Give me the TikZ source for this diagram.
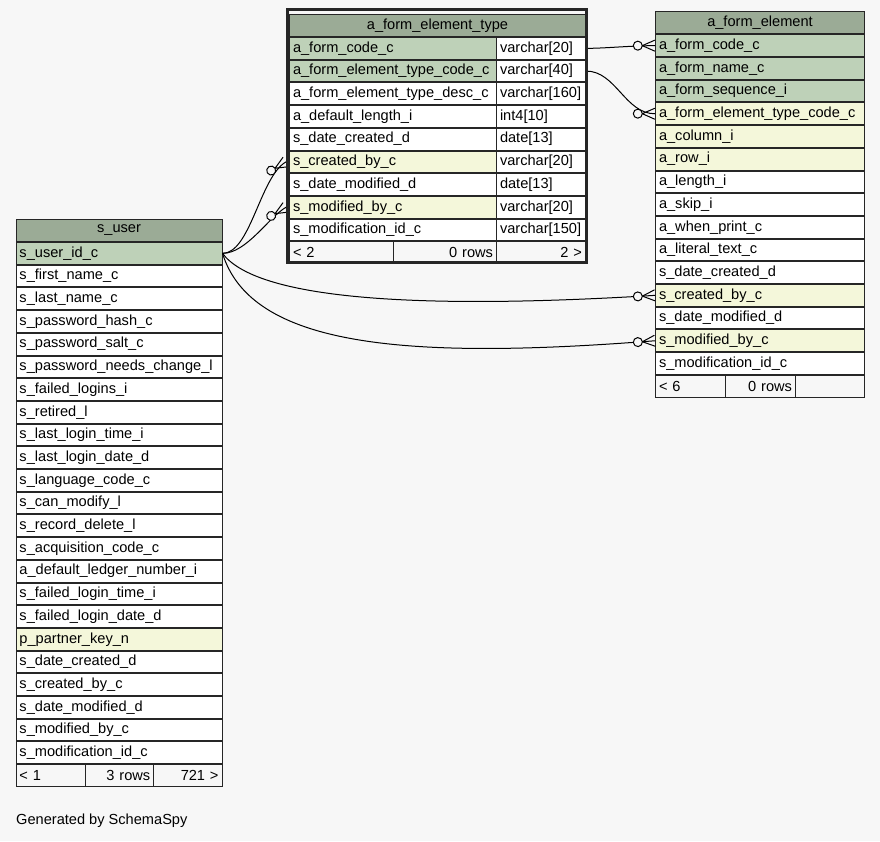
\documentclass[tikz,border=0pt]{standalone}
\usepackage{fontspec}
\setmainfont{Liberation Sans}
\usetikzlibrary{calc,decorations.markings}
\definecolor{headcol}{HTML}{9BAB96}
\definecolor{keycol}{HTML}{BED1B8}
\definecolor{idxcol}{HTML}{F4F7DA}
\definecolor{backcol}{HTML}{F7F7F7}
\tikzset{
  cell/.style={draw=black!85, line width=1pt, rectangle, anchor=north west, inner xsep=3.5pt, inner ysep=0pt,
    minimum height=21.7pt, align=left, font=\fontsize{14.6}{17}\selectfont},
  headcell/.style={cell, fill=headcol, align=center, minimum height=22pt},
  crowfoot/.style={decoration={markings, mark=at position -0.2pt with {
      \draw[line width=1pt] (-12.5,0) -- (0,5.5) (-12.5,0) -- (0,-5.5);
      \draw[line width=1pt, fill=backcol] (-17,0) circle (4.5pt);
    }}, postaction=decorate},
  fkline/.style={draw=black, line width=1pt, crowfoot}
}
\begin{document}
\begin{tikzpicture}[x=1pt,y=-1pt]
\fill[backcol] (0,0) rectangle (880,841);

% s_user
\node[headcell, text width=199pt] (user-0) at (15.5,219) {s\_user};
\foreach \n/\txt/\clr in {1/s\_user\_id\_c/keycol,2/s\_first\_name\_c/white,3/s\_last\_name\_c/white,4/s\_password\_hash\_c/white,5/s\_password\_salt\_c/white,6/s\_password\_needs\_change\_l/white,7/s\_failed\_logins\_i/white,8/s\_retired\_l/white,9/s\_last\_login\_time\_i/white,10/s\_last\_login\_date\_d/white,11/s\_language\_code\_c/white,12/s\_can\_modify\_l/white,13/s\_record\_delete\_l/white,14/s\_acquisition\_code\_c/white,15/a\_default\_ledger\_number\_i/white,16/s\_failed\_login\_time\_i/white,17/s\_failed\_login\_date\_d/white,18/p\_partner\_key\_n/idxcol,19/s\_date\_created\_d/white,20/s\_created\_by\_c/white,21/s\_date\_modified\_d/white,22/s\_modified\_by\_c/white,23/s\_modification\_id\_c/white}
{
\node[cell, fill=\clr, text width=199pt] (user-\n) at (15.5,{242+(\n-1)*22.7}) {\txt};
}
\node[cell, fill=backcol, text width=62.5pt] (user-f1) at (15.5,764) {< 1};
\node[cell, fill=backcol, text width=61.3pt, align=right] (user-f2) at (85,764) {3 rows};
\node[cell, fill=backcol, text width=61.2pt, align=right] (user-f3) at (153.3,764) {721 >};

% a_form_element_type
\node[headcell, text width=289pt] (type-0) at (289,14) {a\_form\_element\_type};
\foreach \n/\txt/\typ/\clr in {1/a\_form\_code\_c/varchar[20]/keycol,2/a\_form\_element\_type\_code\_c/varchar[40]/keycol,3/a\_form\_element\_type\_desc\_c/varchar[160]/white,4/a\_default\_length\_i/int4[10]/white,5/s\_date\_created\_d/date[13]/white,6/s\_created\_by\_c/varchar[20]/idxcol,7/s\_date\_modified\_d/date[13]/white,8/s\_modified\_by\_c/varchar[20]/idxcol,9/s\_modification\_id\_c/varchar[150]/white}
{
\node[cell, fill=\clr, text width=200pt] (type-\n) at (289,{37+(\n-1)*22.7}) {\txt};
\node[cell, fill=white, text width=82pt] (typecol-\n) at (496,{37+(\n-1)*22.7}) {\typ};
}
\node[cell, fill=backcol, text width=97pt] (type-f1) at (289,241.3) {< 2};
\node[cell, fill=backcol, text width=96pt, align=right] (type-f2) at (393,241.3) {0 rows};
\node[cell, fill=backcol, text width=82pt, align=right] (type-f3) at (496,241.3) {2 >};

% a_form_element
\node[headcell, text width=202pt, minimum height=22.6pt] (elem-0) at (655,10.7) {a\_form\_element};
\foreach \n/\txt/\clr in {1/a\_form\_code\_c/keycol,2/a\_form\_name\_c/keycol,3/a\_form\_sequence\_i/keycol,4/a\_form\_element\_type\_code\_c/idxcol,5/a\_column\_i/idxcol,6/a\_row\_i/idxcol,7/a\_length\_i/white,8/a\_skip\_i/white,9/a\_when\_print\_c/white,10/a\_literal\_text\_c/white,11/s\_date\_created\_d/white,12/s\_created\_by\_c/idxcol,13/s\_date\_modified\_d/white,14/s\_modified\_by\_c/idxcol,15/s\_modification\_id\_c/white}
{
\node[cell, fill=\clr, text width=202pt] (elem-\n) at (655,{34.3+(\n-1)*22.7}) {\txt};
}
\node[cell, fill=backcol, text width=63pt] (elem-f1) at (655,374.8) {< 6};
\node[cell, fill=backcol, text width=63pt, align=right] (elem-f2) at (725,374.8) {0 rows};
\node[cell, fill=backcol, text width=62pt] (elem-f3) at (795,374.8) {};

% foreign keys
\draw[fkline] (typecol-1.east) .. controls ($(typecol-1.east)+(20,0)$) and ($(elem-1.west)+(-25,0)$) .. (elem-1.west);
\draw[fkline] (typecol-2.east) .. controls ($(typecol-2.east)+(30,0)$) and ($(elem-4.west)+(-30,0)$) .. (elem-4.west);
\draw[fkline] (user-1.east) .. controls ($(user-1.east)+(28,0)$) and ($(type-6.west)+(-29,15)$) .. ([xshift=-3pt]type-6.west);
\draw[fkline] (user-1.east) .. controls ($(user-1.east)+(24,0)$) and ($(type-8.west)+(-20.4,10)$) .. ([xshift=-3pt]type-8.west);
\draw[fkline] (user-1.east) .. controls ($(user-1.east)+(33.5,45)$) and ($(elem-12.west)+(-245,15)$) .. (elem-12.west);
\draw[fkline] (user-1.east) .. controls ($(user-1.east)+(28.5,92)$) and ($(elem-14.west)+(-255,20)$) .. (elem-14.west);

\draw[line width=3pt, draw=black!85] (287.5,9.5) rectangle (586.5,262.5);

\node[anchor=west, inner sep=0pt, font=\fontsize{14.6}{17}\selectfont] (credit) at (16,821) {Generated by SchemaSpy};
\end{tikzpicture}
\end{document}
